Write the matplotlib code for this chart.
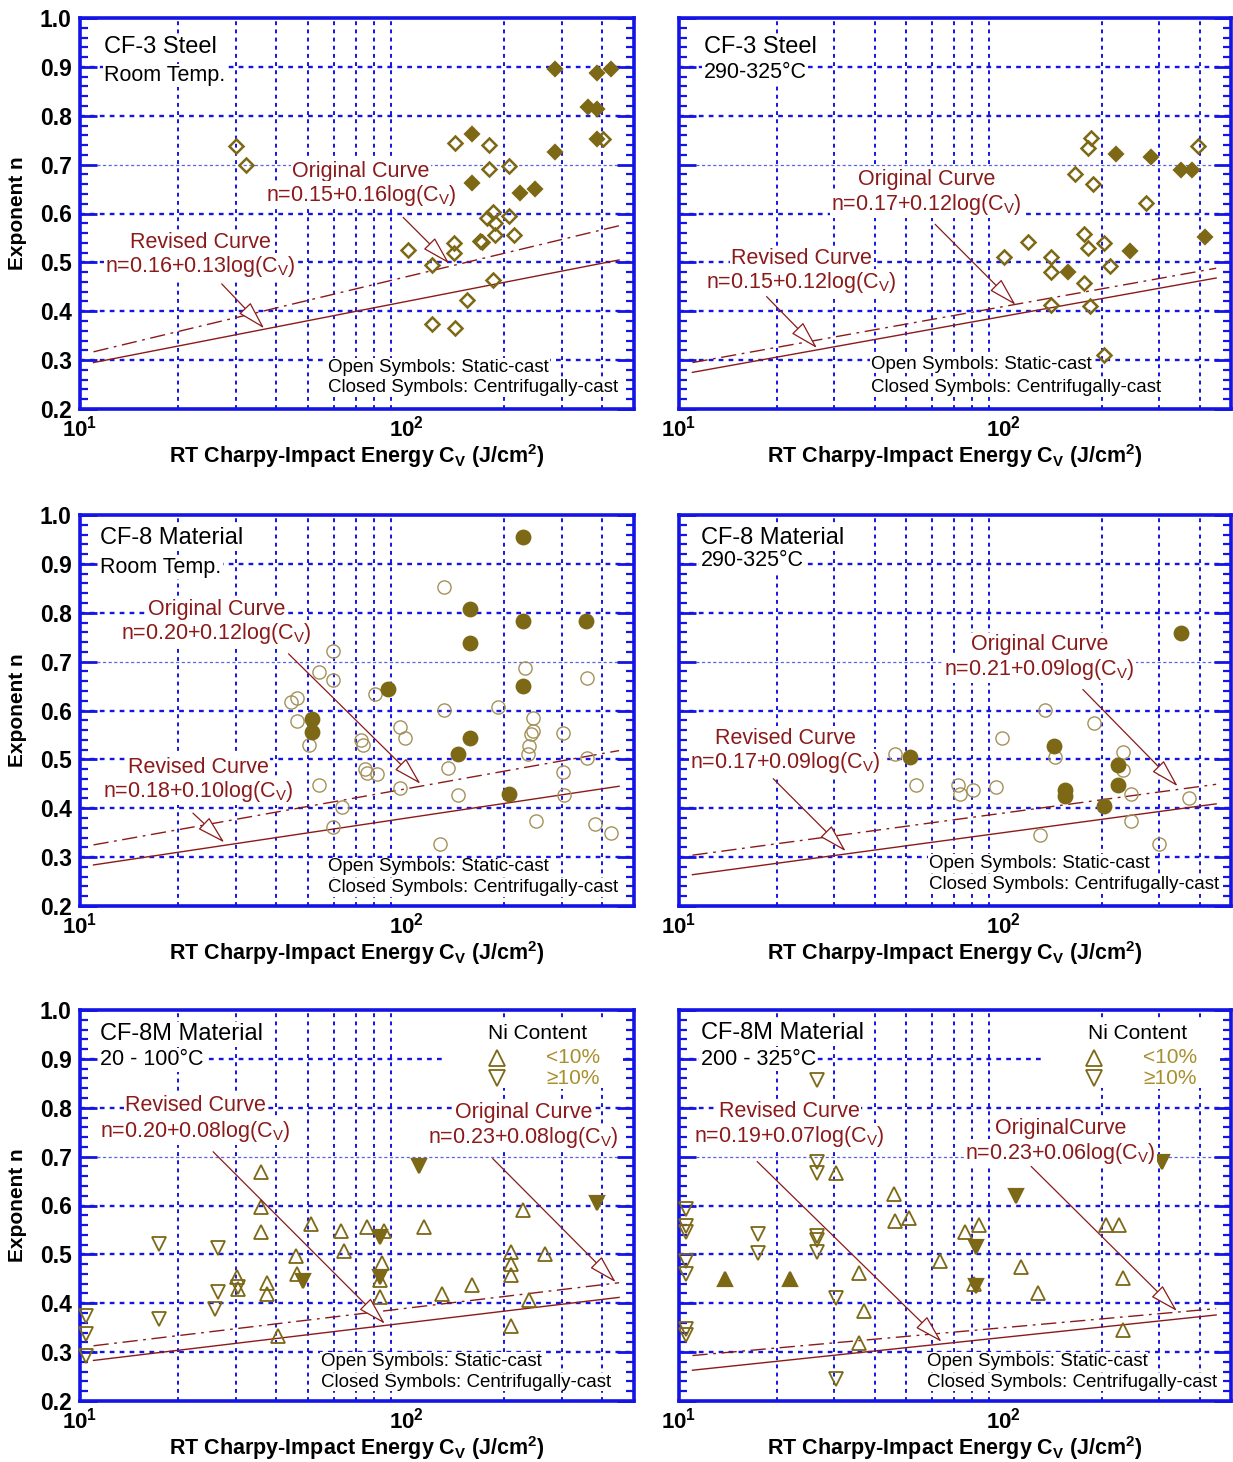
"""
Exponent n vs RT Charpy-impact energy for CF-3 / CF-8 / CF-8M cast stainless steels
"""

import matplotlib
matplotlib.use('Agg')
import matplotlib.pyplot as plt
from matplotlib.patches import Rectangle
from matplotlib.ticker import MultipleLocator, NullFormatter

plt.rcParams['font.family'] = ['Liberation Sans', 'DejaVu Sans']
plt.rcParams['mathtext.fontset'] = 'custom'
plt.rcParams['mathtext.rm'] = 'Liberation Sans'
plt.rcParams['mathtext.it'] = 'Liberation Sans:italic'
plt.rcParams['mathtext.bf'] = 'Liberation Sans:bold'

BLUE = '#1414e6'
RED = '#8b1a1a'
OLIVE = '#7d6816'
OLIVE_LT = '#a3925a'
NI_TXT = '#a88f2e'

# ---------------- data ----------------
X_MINOR = [20, 30, 40, 50, 60, 70, 80, 90, 200, 300, 400]
Y_MAJOR = [0.2, 0.3, 0.4, 0.5, 0.6, 0.7, 0.8, 0.9, 1.0]
Y_LABELS = ['0.2', '0.3', '0.4', '0.5', '0.6', '0.7', '0.8', '0.9', '1.0']
X_LABELS = [r'$\mathbf{10^{1}}$', r'$\mathbf{10^{2}}$']

# curve end points (match the printed equations)
LINE_X = [11, 450]
CF3_RT_ORIG_Y = [0.317, 0.575]
CF3_RT_REV_Y = [0.295, 0.505]
CF3_HT_ORIG_Y = [0.295, 0.488]
CF3_HT_REV_Y = [0.275, 0.468]
CF8_RT_ORIG_Y = [0.325, 0.518]
CF8_RT_REV_Y = [0.284, 0.445]
CF8_HT_ORIG_Y = [0.304, 0.449]
CF8_HT_REV_Y = [0.264, 0.409]
CF8M_LT_ORIG_Y = [0.313, 0.442]
CF8M_LT_REV_Y = [0.283, 0.412]
CF8M_HT_ORIG_Y = [0.293, 0.389]
CF8M_HT_REV_Y = [0.263, 0.376]

# CF-3, room temperature
CF3_RT_OPEN_X = [30, 32.3, 141, 179.5, 179.5, 207, 184.5, 176.6, 188, 207, 188, 215, 168, 171,
                 140.6, 140.6, 101.4, 120.5, 184.5, 153.8, 120.5, 141, 403]
CF3_RT_OPEN_Y = [0.738, 0.700, 0.744, 0.741, 0.692, 0.697, 0.603, 0.590, 0.581, 0.595, 0.556, 0.557, 0.544, 0.541,
                 0.539, 0.520, 0.525, 0.495, 0.464, 0.423, 0.374, 0.365, 0.753]
CF3_RT_CLOSED_X = [286, 384.5, 425.6, 361, 385.6, 384.5, 159.6, 286, 159.6, 223.9, 248.4]
CF3_RT_CLOSED_Y = [0.895, 0.888, 0.895, 0.818, 0.814, 0.753, 0.762, 0.726, 0.663, 0.642, 0.651]

# CF-3, 290-325 C
CF3_HT_OPEN_X = [185.8, 181.8, 166, 188.4, 397, 273.5, 118.6, 176, 181.8, 203.6, 100.3, 139.3,
                 139.3, 211.8, 176, 139.3, 184.6, 203.6]
CF3_HT_OPEN_Y = [0.754, 0.733, 0.680, 0.661, 0.738, 0.622, 0.542, 0.558, 0.529, 0.539, 0.510, 0.512,
                 0.480, 0.493, 0.457, 0.413, 0.410, 0.310]
CF3_HT_CLOSED_X = [220.8, 283, 351.6, 378.6, 416, 245, 157.8]
CF3_HT_CLOSED_Y = [0.722, 0.716, 0.688, 0.690, 0.551, 0.524, 0.481]

# CF-8, room temperature
CF8_RT_OPEN_X = [130.9, 59.8, 54.2, 59.8, 44.4, 46.4, 46.4, 50.5, 80.5, 72.6, 73.8, 96, 99.3, 74.6, 76,
                 81.7, 54.2, 95.5, 63.5, 59.8, 130.9, 134.6, 144.5, 127, 192, 232, 244.6, 244.6, 242.4,
                 237.7, 236, 250, 302, 302, 305.6, 358, 358, 379, 424.6]
CF8_RT_OPEN_Y = [0.852, 0.722, 0.679, 0.663, 0.618, 0.625, 0.578, 0.530, 0.634, 0.540, 0.529, 0.567, 0.544,
                 0.481, 0.472, 0.471, 0.447, 0.442, 0.403, 0.361, 0.601, 0.483, 0.427, 0.327, 0.607, 0.686,
                 0.585, 0.559, 0.552, 0.528, 0.510, 0.373, 0.554, 0.474, 0.427, 0.666, 0.503, 0.367, 0.350]
CF8_RT_CLOSED_X = [228, 157, 228, 356, 157, 228, 87.9, 51.6, 51.6, 157, 144.5, 207]
CF8_RT_CLOSED_Y = [0.955, 0.807, 0.784, 0.784, 0.738, 0.651, 0.643, 0.582, 0.557, 0.544, 0.510, 0.429]

# CF-8, 290-325 C
CF8_HT_OPEN_X = [133.4, 189.8, 98.9, 46.3, 143.2, 233.4, 233.4, 53.7, 72.4, 73.5, 80.2, 94.6, 246.6,
                 372.4, 246.6, 129, 301]
CF8_HT_OPEN_Y = [0.601, 0.574, 0.544, 0.512, 0.505, 0.515, 0.478, 0.447, 0.448, 0.430, 0.437, 0.444, 0.430,
                 0.420, 0.373, 0.346, 0.327]
CF8_HT_CLOSED_X = [350.7, 142.7, 51.3, 225, 225, 154.5, 154.5, 203.6]
CF8_HT_CLOSED_Y = [0.759, 0.527, 0.505, 0.488, 0.448, 0.437, 0.4245, 0.404]

# CF-8M, 20-100 C
CF8M_LT_UP_OPEN_X = [35.9, 35.9, 35.9, 51.1, 63.2, 64.6, 76.1, 85.3, 45.9, 46.2, 30.2, 30.6, 37.5, 37.5,
                     84.5, 82.9, 82.9, 40.6, 113.7, 128.8, 159.5, 210.4, 210.4, 210.4, 210.4, 229, 267, 237.7]
CF8M_LT_UP_OPEN_Y = [0.668, 0.597, 0.546, 0.562, 0.547, 0.507, 0.555, 0.547, 0.496, 0.460, 0.454, 0.429,
                     0.441, 0.419, 0.483, 0.448, 0.412, 0.334, 0.555, 0.419, 0.438, 0.505, 0.480, 0.458,
                     0.354, 0.590, 0.500, 0.4065]
CF8M_LT_DN_OPEN_X = [17.5, 26.5, 26.5, 26, 17.5, 10.4, 10.4, 10.4, 30.5]
CF8M_LT_DN_OPEN_Y = [0.522, 0.514, 0.422, 0.388, 0.368, 0.373, 0.337, 0.293, 0.434]
CF8M_LT_DN_CLOSED_X = [109.7, 386, 82.9, 48.2, 82.9]
CF8M_LT_DN_CLOSED_Y = [0.680, 0.606, 0.536, 0.445, 0.454]

# CF-8M, 200-325 C
CF8M_HT_UP_OPEN_X = [30.4, 45.8, 46.2, 50.9, 35.7, 37.2, 35.7, 63.8, 75.9, 84.1, 112.6, 127.4, 206.5,
                     225.5, 233, 233, 81]
CF8M_HT_UP_OPEN_Y = [0.666, 0.624, 0.568, 0.575, 0.462, 0.385, 0.319, 0.486, 0.545, 0.560, 0.474, 0.421,
                     0.560, 0.560, 0.452, 0.346, 0.440]
CF8M_HT_UP_CLOSED_X = [13.9, 22]
CF8M_HT_UP_CLOSED_Y = [0.449, 0.449]
CF8M_HT_DN_OPEN_X = [26.5, 26.5, 26.5, 10.5, 10.5, 10.5, 10.5, 10.5, 17.5, 17.5, 26.5, 26.5, 26.5, 30.4,
                     10.5, 10.5, 30.4]
CF8M_HT_DN_OPEN_Y = [0.857, 0.690, 0.666, 0.592, 0.558, 0.546, 0.486, 0.460, 0.542, 0.503, 0.538, 0.530,
                     0.504, 0.411, 0.348, 0.336, 0.246]
CF8M_HT_DN_CLOSED_X = [307, 108.7, 82, 82]
CF8M_HT_DN_CLOSED_Y = [0.688, 0.620, 0.515, 0.436]


def setup_axes(ax, left_col):
    ax.set_xscale('log')
    ax.set_xlim(10, 500)
    ax.set_ylim(0.2, 1.0)
    ax.set_xticks([10, 100], X_LABELS, fontsize=16)
    ax.set_xticks(X_MINOR, minor=True)
    ax.xaxis.set_minor_formatter(NullFormatter())
    if left_col:
        ax.set_yticks(Y_MAJOR, Y_LABELS, fontsize=16.5, fontweight='bold')
        ax.set_ylabel('Exponent n', fontsize=15, fontweight='bold', labelpad=9)
    else:
        ax.set_yticks(Y_MAJOR, [''] * len(Y_MAJOR))
    ax.yaxis.set_minor_locator(MultipleLocator(0.02))
    ax.tick_params(which='both', direction='in', colors=BLUE, labelcolor='black',
                   left=True, right=True, top=False, bottom=False)
    ax.tick_params(which='major', length=12, width=2)
    ax.tick_params(which='minor', length=6, width=1.6)
    ax.tick_params(axis='x', which='major', pad=5)
    ax.tick_params(axis='y', which='major', pad=6)
    for sp in ax.spines.values():
        sp.set_color(BLUE)
        sp.set_linewidth(2.6)
    # grid
    for xv in X_MINOR:
        ax.axvline(xv, color=BLUE, lw=1.4, ls=(0, (2, 2.2)), zorder=1)
    for yv in Y_MAJOR[1:-1]:
        if yv == 0.7:
            ax.axhline(yv, color='#5a64e6', lw=0.9, ls=(0, (2.5, 2)), zorder=1)
        else:
            ax.axhline(yv, color=BLUE, lw=1.7, ls=(0, (2, 2.2)), zorder=1)
    ax.set_xlabel(r'RT Charpy-Impact Energy C$_{\mathbf{V}}$ (J/cm$^{\mathbf{2}}$)',
                  fontsize=15.5, fontweight='bold', labelpad=0)


def txt(ax, x, y, s, size=15.5, color='black', ha='center', pad=1.0):
    ax.text(x, y, s, transform=ax.transAxes, fontsize=size, color=color, ha=ha, va='center',
            zorder=6, bbox=dict(fc='white', ec='none', pad=pad))


def arrow(ax, tail, head):
    ax.annotate('', xy=head, xytext=tail, zorder=7,
                arrowprops=dict(arrowstyle='-|>,head_length=1.5,head_width=0.42',
                                fc='white', ec=RED, lw=0.9, shrinkA=0, shrinkB=0,
                                mutation_scale=12))


def pts(ax, x, y, marker, filled, ms, mew=1.6, ec=OLIVE):
    ax.plot(x, y, ls='none', marker=marker, ms=ms, mew=mew,
            mfc=OLIVE if filled else 'none', mec=OLIVE if filled else ec, zorder=4, clip_on=False)


def curves(ax, orig_y, rev_y):
    ax.plot(LINE_X, orig_y, color=RED, lw=1.0, dashes=[11, 4, 2, 4], zorder=3)
    ax.plot(LINE_X, rev_y, color=RED, lw=1.0, zorder=3)


def cast_note(ax, x, y0, y1):
    txt(ax, x, y0, 'Open Symbols: Static-cast', size=13.5, ha='left', pad=0.5)
    txt(ax, x, y1, 'Closed Symbols: Centrifugally-cast', size=13.5, ha='left', pad=0.5)


def ni_legend(ax, x_name, y_name, x_mark, y_up, y_dn, x_txt):
    ax.add_patch(Rectangle((0.655, 0.80), 0.325, 0.175, transform=ax.transAxes,
                           fc='white', ec='none', zorder=2))
    txt(ax, x_name, y_name, 'Ni Content', size=15)
    ax.plot([x_mark], [y_up], transform=ax.transAxes, marker='^', ms=11, mfc='none',
            mec=OLIVE, mew=1.3, zorder=7)
    ax.plot([x_mark], [y_dn], transform=ax.transAxes, marker='v', ms=11, mfc='none',
            mec=OLIVE, mew=1.3, zorder=7)
    txt(ax, x_txt, y_up, '<10%', size=15, color=NI_TXT)
    txt(ax, x_txt, y_dn, '\u226510%', size=15, color=NI_TXT)


W, H = 1233, 1462
fig = plt.figure(figsize=(W / 100, H / 100), dpi=100)
COL_L = [80 / W, 679 / W]
COL_W = [554 / W, 552 / W]
ROW_B = [1 - 409 / H, 1 - 906 / H, 1 - 1401 / H]
AX_H = 391 / H
axs = [[fig.add_axes([COL_L[c], ROW_B[r], COL_W[c], AX_H]) for c in range(2)] for r in range(3)]

for r in range(3):
    for c in range(2):
        setup_axes(axs[r][c], c == 0)

FORM = 'n={}+{}log(C$_{{\\mathregular{{V}}}}$)'

# --- CF-3 room temp ---
ax = axs[0][0]
curves(ax, CF3_RT_ORIG_Y, CF3_RT_REV_Y)
pts(ax, CF3_RT_OPEN_X, CF3_RT_OPEN_Y, 'D', False, 7.2, mew=1.8)
pts(ax, CF3_RT_CLOSED_X, CF3_RT_CLOSED_Y, 'D', True, 7.6)
txt(ax, 0.043, 0.925, 'CF-3 Steel', size=17, ha='left')
txt(ax, 0.043, 0.853, 'Room Temp.', size=15.5, ha='left')
txt(ax, 0.507, 0.608, 'Original Curve', color=RED)
txt(ax, 0.507, 0.547, FORM.format('0.15', '0.16'), color=RED)
txt(ax, 0.217, 0.425, 'Revised Curve', color=RED)
txt(ax, 0.217, 0.364, FORM.format('0.16', '0.13'), color=RED)
arrow(ax, (98, 0.592), (135.5, 0.498))
arrow(ax, (27.2, 0.456), (36.7, 0.365))
cast_note(ax, 0.448, 0.106, 0.054)

# --- CF-3 290-325 C ---
ax = axs[0][1]
curves(ax, CF3_HT_ORIG_Y, CF3_HT_REV_Y)
pts(ax, CF3_HT_OPEN_X, CF3_HT_OPEN_Y, 'D', False, 7.2, mew=1.8)
pts(ax, CF3_HT_CLOSED_X, CF3_HT_CLOSED_Y, 'D', True, 7.6)
txt(ax, 0.0446, 0.925, 'CF-3 Steel', size=17, ha='left')
txt(ax, 0.0446, 0.861, '290-325\u00b0C', size=15.5, ha='left')
txt(ax, 0.448, 0.588, 'Original Curve', color=RED)
txt(ax, 0.448, 0.524, FORM.format('0.17', '0.12'), color=RED)
txt(ax, 0.2215, 0.385, 'Revised Curve', color=RED)
txt(ax, 0.2215, 0.323, FORM.format('0.15', '0.12'), color=RED)
arrow(ax, (61.4, 0.578), (108.6, 0.413))
arrow(ax, (18.6, 0.430), (26.6, 0.3245))
cast_note(ax, 0.347, 0.115, 0.054)

# --- CF-8 room temp ---
ax = axs[1][0]
curves(ax, CF8_RT_ORIG_Y, CF8_RT_REV_Y)
pts(ax, CF8_RT_OPEN_X, CF8_RT_OPEN_Y, 'o', False, 9.5, mew=1.0, ec=OLIVE_LT)
pts(ax, CF8_RT_CLOSED_X, CF8_RT_CLOSED_Y, 'o', True, 9.8)
txt(ax, 0.037, 0.940, 'CF-8 Material', size=17, ha='left')
txt(ax, 0.037, 0.866, 'Room Temp.', size=15.5, ha='left')
txt(ax, 0.247, 0.759, 'Original Curve', color=RED)
txt(ax, 0.247, 0.696, FORM.format('0.20', '0.12'), color=RED)
txt(ax, 0.2135, 0.355, 'Revised Curve', color=RED)
txt(ax, 0.2135, 0.294, FORM.format('0.18', '0.10'), color=RED)
arrow(ax, (43.6, 0.716), (110.7, 0.450))
arrow(ax, (22.2, 0.390), (27.7, 0.330))
cast_note(ax, 0.448, 0.100, 0.047)

# --- CF-8 290-325 C ---
ax = axs[1][1]
curves(ax, CF8_HT_ORIG_Y, CF8_HT_REV_Y)
pts(ax, CF8_HT_OPEN_X, CF8_HT_OPEN_Y, 'o', False, 9.5, mew=1.0, ec=OLIVE_LT)
pts(ax, CF8_HT_CLOSED_X, CF8_HT_CLOSED_Y, 'o', True, 9.8)
txt(ax, 0.039, 0.940, 'CF-8 Material', size=17, ha='left')
txt(ax, 0.039, 0.883, '290-325\u00b0C', size=15.5, ha='left')
txt(ax, 0.653, 0.668, 'Original Curve', color=RED)
txt(ax, 0.653, 0.606, FORM.format('0.21', '0.09'), color=RED)
txt(ax, 0.193, 0.429, 'Revised Curve', color=RED)
txt(ax, 0.193, 0.3665, FORM.format('0.17', '0.09'), color=RED)
arrow(ax, (175, 0.643), (342.7, 0.445))
arrow(ax, (19.5, 0.4605), (32.6, 0.312))
cast_note(ax, 0.453, 0.109, 0.055)

# --- CF-8M 20-100 C ---
ax = axs[2][0]
curves(ax, CF8M_LT_ORIG_Y, CF8M_LT_REV_Y)
pts(ax, CF8M_LT_UP_OPEN_X, CF8M_LT_UP_OPEN_Y, '^', False, 10, mew=1.3)
pts(ax, CF8M_LT_DN_OPEN_X, CF8M_LT_DN_OPEN_Y, 'v', False, 10, mew=1.3)
pts(ax, CF8M_LT_DN_CLOSED_X, CF8M_LT_DN_CLOSED_Y, 'v', True, 10.5)
txt(ax, 0.037, 0.938, 'CF-8M Material', size=17, ha='left')
txt(ax, 0.037, 0.8726, '20 - 100\u00b0C', size=15.5, ha='left')
txt(ax, 0.2084, 0.7553, 'Revised Curve', color=RED)
txt(ax, 0.2084, 0.690, FORM.format('0.20', '0.08'), color=RED)
txt(ax, 0.801, 0.7366, 'Original Curve', color=RED)
txt(ax, 0.801, 0.673, FORM.format('0.23', '0.08'), color=RED)
arrow(ax, (25.6, 0.710), (86.1, 0.358))
arrow(ax, (184.4, 0.696), (439.5, 0.443))
ni_legend(ax, 0.8255, 0.9405, 0.752, 0.8785, 0.826, 0.8895)
cast_note(ax, 0.4345, 0.101, 0.048)

# --- CF-8M 200-325 C ---
ax = axs[2][1]
curves(ax, CF8M_HT_ORIG_Y, CF8M_HT_REV_Y)
pts(ax, CF8M_HT_UP_OPEN_X, CF8M_HT_UP_OPEN_Y, '^', False, 10, mew=1.3)
pts(ax, CF8M_HT_DN_OPEN_X, CF8M_HT_DN_OPEN_Y, 'v', False, 10, mew=1.3)
pts(ax, CF8M_HT_UP_CLOSED_X, CF8M_HT_UP_CLOSED_Y, '^', True, 10.5)
pts(ax, CF8M_HT_DN_CLOSED_X, CF8M_HT_DN_CLOSED_Y, 'v', True, 10.5)
txt(ax, 0.039, 0.9404, 'CF-8M Material', size=17, ha='left')
txt(ax, 0.039, 0.874, '200 - 325\u00b0C', size=15.5, ha='left')
txt(ax, 0.2003, 0.740, 'Revised Curve', color=RED)
txt(ax, 0.2003, 0.6766, FORM.format('0.19', '0.07'), color=RED)
txt(ax, 0.691, 0.698, 'OriginalCurve', color=RED)
txt(ax, 0.691, 0.634, FORM.format('0.23', '0.06'), color=RED)
arrow(ax, (17.4, 0.690), (64.3, 0.321))
arrow(ax, (121.3, 0.680), (341, 0.384))
ni_legend(ax, 0.8316, 0.9404, 0.752, 0.878, 0.8255, 0.890)
cast_note(ax, 0.449, 0.102, 0.0485)

fig.savefig('out.png', dpi=100)
plt.close(fig)
